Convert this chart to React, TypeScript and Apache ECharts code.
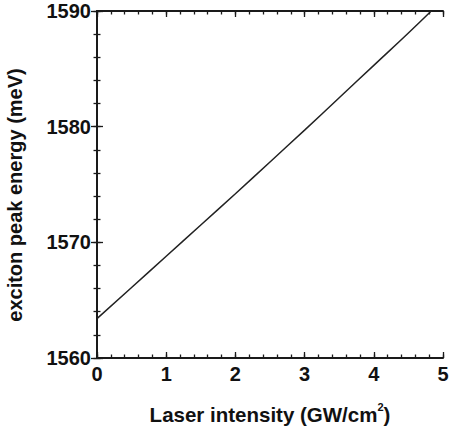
import React, { useEffect, useRef } from "react";
import * as echarts from "echarts";

const intensity = [0, 0.5, 1, 1.5, 2, 2.5, 3, 3.5, 4, 4.5, 4.83];
const peakEnergy = [1563.4, 1566.1, 1568.8, 1571.5, 1574.2, 1576.95, 1579.7, 1582.5, 1585.3, 1588.1, 1590.0];
const xTicks = [0, 1, 2, 3, 4, 5];
const yTicks = [1560, 1570, 1580, 1590];
const xTitle = "Laser intensity (GW/cm";
const yTitle = "exciton peak energy (meV)";

export default function App() {
  const ref = useRef<HTMLDivElement>(null);
  useEffect(() => {
    if (!ref.current) return;
    const chart = echarts.init(ref.current, undefined, { renderer: "svg" });
    const font = "'Liberation Sans', Arial, Helvetica, sans-serif";
    const axisColor = "#1a1a1a";
    const xMin = xTicks[0];
    const xMax = xTicks[xTicks.length - 1];
    const yMin = yTicks[0];
    const yMax = yTicks[yTicks.length - 1];
    const mkX = (pos: string, show: boolean, interval: number, len: number, withLine: boolean, extra: any = {}) => ({
      type: "value",
      position: pos,
      min: xMin,
      max: xMax,
      interval,
      axisLine: { show: withLine, lineStyle: { color: axisColor, width: 2 } },
      axisTick: { show: true, inside: true, length: len, lineStyle: { color: axisColor, width: 1.3 } },
      splitLine: { show: false },
      axisLabel: show
        ? { show: true, margin: 6, color: "#111", fontSize: 20, fontWeight: "bold", fontFamily: font }
        : { show: false },
      ...extra,
    });
    const mkY = (pos: string, show: boolean, interval: number, len: number, withLine: boolean) => ({
      type: "value",
      position: pos,
      min: yMin,
      max: yMax,
      interval,
      axisLine: { show: withLine, lineStyle: { color: axisColor, width: 2 } },
      axisTick: { show: true, inside: true, length: len, lineStyle: { color: axisColor, width: 1.3 } },
      splitLine: { show: false },
      axisLabel: show
        ? { show: true, margin: 6, color: "#111", fontSize: 20, fontWeight: "bold", fontFamily: font, formatter: (v: number) => String(v) }
        : { show: false },
    });
    chart.setOption({
      animation: false,
      backgroundColor: "#ffffff",
      grid: { left: 97, right: 8, top: 11, bottom: 70, outerBoundsMode: "none", containLabel: false },
      xAxis: [
        mkX("bottom", true, 1, 6, true, {
          name: xTitle + "{sup|2})",
          nameLocation: "middle",
          nameGap: 43,
          nameTextStyle: {
            color: "#111",
            fontSize: 20.5,
            fontWeight: "bold",
            fontFamily: font,
            rich: {
              sup: { fontSize: 11, fontWeight: "bold", fontFamily: font, color: "#111", padding: [0, 0, 15, 0] },
            },
          },
        }),
        mkX("top", false, 1, 6, true),
        mkX("bottom", false, 0.2, 3.5, false),
        mkX("top", false, 0.2, 3.5, false),
      ],
      yAxis: [
        mkY("left", true, 10, 6, true),
        mkY("right", false, 10, 6, true),
        mkY("left", false, 2, 3.5, false),
        mkY("right", false, 2, 3.5, false),
      ],
      graphic: [
        {
          type: "text",
          x: 15,
          y: 195,
          rotation: Math.PI / 2,
          style: {
            text: yTitle,
            fill: "#111",
            font: `bold 20px ${font}`,
            textAlign: "center",
            textVerticalAlign: "middle",
          },
        },
      ],
      series: [
        {
          type: "line",
          data: intensity.map((x, i) => [x, peakEnergy[i]]),
          showSymbol: false,
          smooth: true,
          lineStyle: { color: "#222", width: 1.5 },
          xAxisIndex: 0,
          yAxisIndex: 0,
        },
      ],
    });
    return () => chart.dispose();
  }, []);
  return <div ref={ref} style={{ position: "fixed", left: 0, top: 0, width: 451, height: 428 }} />;
}
